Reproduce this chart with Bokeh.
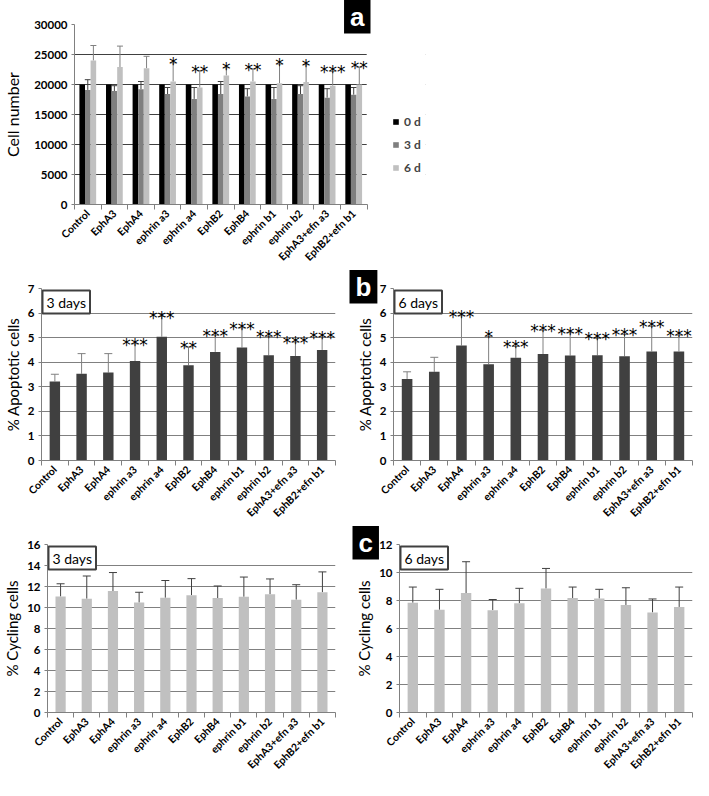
import numpy as np
from bokeh.plotting import figure
from bokeh.models import (Range1d, FixedTicker, SingleIntervalTicker, Whisker, ColumnDataSource,
                          Label, Legend, LegendItem, TeeHead, Title, BoxAnnotation)
from bokeh.layouts import column, row
from bokeh.transform import dodge
from bokeh.core.properties import value
from bokeh.embed import file_html
from bokeh.resources import INLINE

categories = ["Control", "EphA3", "EphA4", "ephrin a3", "ephrin a4", "EphB2", "EphB4",
              "ephrin b1", "ephrin b2", "EphA3+efn a3", "EphB2+efn b1"]

# Panel a: cell number
cells_0d = [20000] * 11
cells_3d = [19100, 18900, 19200, 18400, 17600, 18400, 18000, 17600, 18400, 17800, 18300]
cells_3d_sd = [1700, 900, 1300, 1100, 1900, 2100, 1300, 1900, 1400, 1500, 1200]
cells_6d = [24000, 22900, 22700, 20500, 19500, 21500, 20500, 20200, 20400, 19800, 20000]
cells_6d_sd = [2500, 3500, 2000, 3100, 2800, 1300, 2100, 3200, 2900, 2400, 2900]
cells_stars = ["", "", "", "*", "**", "*", "**", "*", "*", "***", "**"]

# Panel b: % apoptotic cells
apo_3d = [3.22, 3.53, 3.58, 4.05, 5.04, 3.88, 4.42, 4.60, 4.28, 4.25, 4.50]
apo_3d_sd = [0.29, 0.82, 0.77, 0.70, 0.82, 0.74, 0.68, 0.80, 0.77, 0.57, 0.52]
apo_3d_stars = ["", "", "", "***", "***", "**", "***", "***", "***", "***", "***"]
apo_6d = [3.32, 3.61, 4.68, 3.92, 4.18, 4.33, 4.27, 4.28, 4.24, 4.44, 4.44]
apo_6d_sd = [0.29, 0.59, 1.21, 1.13, 0.46, 0.97, 0.93, 0.69, 0.89, 1.02, 0.66]
apo_6d_stars = ["", "", "***", "*", "***", "***", "***", "***", "***", "***", "***"]

# Panel c: % cycling cells
cyc_3d = [11.05, 10.84, 11.57, 10.47, 10.93, 11.17, 10.90, 11.02, 11.26, 10.75, 11.45]
cyc_3d_sd = [1.21, 2.16, 1.76, 0.98, 1.64, 1.58, 1.15, 1.88, 1.46, 1.42, 1.94]
cyc_6d = [7.84, 7.34, 8.53, 7.31, 7.80, 8.85, 8.18, 8.14, 7.68, 7.15, 7.54]
cyc_6d_sd = [1.12, 1.46, 2.24, 0.76, 1.07, 1.44, 0.78, 0.66, 1.23, 0.96, 1.42]

LABEL_FONT = "Lato"
STAR_FONT = "DejaVu Sans"
AXIS_H = 66
N = len(categories)


def base_fig(width, height, left, right, top, ymax, yint, ylabel, grid_color,
             title_size, title_standoff, x_end=N - 0.5):
    p = figure(width=width, height=height,
               min_border_left=left, min_border_right=right,
               min_border_top=top, min_border_bottom=AXIS_H,
               x_range=Range1d(-0.5, x_end), y_range=Range1d(0, ymax),
               output_backend="svg", toolbar_location=None, tools="")
    p.outline_line_color = None
    p.xgrid.grid_line_color = None
    p.ygrid.grid_line_color = grid_color
    p.ygrid.grid_line_width = 1
    p.ygrid.ticker = SingleIntervalTicker(interval=yint)

    xa = p.xaxis[0]
    xa.ticker = FixedTicker(ticks=list(range(N)),
                            minor_ticks=[i - 0.5 for i in range(N + 1)])
    xa.bounds = (-0.5, N - 0.5)
    xa.major_label_overrides = {i: c for i, c in enumerate(categories)}
    xa.major_tick_out = 0
    xa.major_tick_in = 0
    xa.minor_tick_out = 5
    xa.minor_tick_in = 0
    xa.minor_tick_line_color = "#808080"
    xa.axis_line_color = "#808080"
    xa.major_label_orientation = np.pi / 4
    xa.major_label_standoff = 2
    xa.major_label_text_font = LABEL_FONT
    xa.major_label_text_font_style = "bold"
    xa.major_label_text_font_size = "10.5px"
    xa.major_label_text_color = "#000000"

    ya = p.yaxis[0]
    ya.ticker = SingleIntervalTicker(interval=yint)
    ya.minor_tick_line_color = None
    ya.major_tick_out = 3
    ya.major_tick_in = 0
    ya.major_tick_line_color = "#808080"
    ya.axis_line_color = "#808080"
    ya.major_label_standoff = 3
    ya.major_label_text_font = LABEL_FONT
    ya.major_label_text_font_style = "bold"
    ya.major_label_text_font_size = "11.5px"
    ya.major_label_text_color = "#000000"
    ya.axis_label = ylabel
    ya.axis_label_text_font = LABEL_FONT
    ya.axis_label_text_font_style = "normal"
    ya.axis_label_text_font_size = title_size
    ya.axis_label_standoff = title_standoff
    ya.axis_label_text_color = "#000000"
    return p


def letter_box(p, letter, align, offset, standoff):
    p.add_layout(Title(text=letter, align=align, offset=offset, standoff=standoff,
                       vertical_align="bottom",
                       text_color="white", text_font="Liberation Sans", text_font_style="bold",
                       text_font_size="26px", background_fill_color="black",
                       padding=(6, 2)), "above")


def day_box(p, txt, frame_h):
    p.add_layout(Label(x=1, y=frame_h - 2, x_units="screen", y_units="screen", text=txt,
                       text_color="black", text_font=LABEL_FONT, text_font_size="14px",
                       background_fill_color="white", border_line_color="#404040",
                       border_line_width=2, anchor="top_left", padding=(4, 3)))


def single_panel(vals, sds, stars, width, height, left, right, top, ymax, yint, ylabel,
                 bar_color, err_color, day_txt):
    idx = list(range(N))
    src = ColumnDataSource(dict(
        x=idx, v=vals, up=[a + b for a, b in zip(vals, sds)],
        stars=list(stars) if stars else [""] * N))
    p = base_fig(width, height, left, right, top, ymax, yint, ylabel, "#808080",
                 "15px", 3)
    p.vbar(x="x", top="v", width=0.39, source=src, fill_color=bar_color, line_color=None)
    p.add_layout(Whisker(source=src, base="x", upper="up", lower="v", line_color=err_color,
                         line_width=1, upper_head=TeeHead(size=8, line_color=err_color),
                         lower_head=None))
    p.text(x="x", y="up", text="stars", source=src, text_align="center",
           text_baseline="alphabetic", text_font=value(STAR_FONT), text_font_size="17px",
           y_offset=1, text_color="#000000")
    day_box(p, day_txt, height - top - AXIS_H)
    return p


# ---- Panel a ----
A_LEFT, A_PLOT_W, A_EXTRA, A_TOP, A_H = 65, 300, 60, 24, 270
a_x_end = -0.5 + N * (A_PLOT_W + A_EXTRA) / A_PLOT_W
pa = base_fig(693, A_H, A_LEFT, 693 - A_LEFT - A_PLOT_W - A_EXTRA, A_TOP, 30000, 5000,
              "Cell number", "#404040", "16px", 9, x_end=a_x_end)
# keep the legend area free of grid lines
pa.add_layout(BoxAnnotation(left=N - 0.5, right=a_x_end + 1, top=40000, bottom=-1000,
                            fill_color="white", fill_alpha=1.0,
                            line_color="white", line_width=2, level="underlay"))
idx = list(range(N))
src_a = ColumnDataSource(dict(
    x=idx, d0=cells_0d, d3=cells_3d, d6=cells_6d,
    up3=[a + b for a, b in zip(cells_3d, cells_3d_sd)],
    up6=[a + b for a, b in zip(cells_6d, cells_6d_sd)],
    stars=list(cells_stars)))
bw = 0.21
r0 = pa.vbar(x=dodge("x", -bw, range=pa.x_range), top="d0", width=bw, source=src_a,
             fill_color="#000000", line_color=None)
r3 = pa.vbar(x=dodge("x", 0, range=pa.x_range), top="d3", width=bw, source=src_a,
             fill_color="#7f7f7f", line_color=None)
r6 = pa.vbar(x=dodge("x", bw, range=pa.x_range), top="d6", width=bw, source=src_a,
             fill_color="#c0c0c0", line_color=None)
pa.add_layout(Whisker(source=src_a, base=dodge("x", 0, range=pa.x_range), upper="up3",
                      lower="d3", line_color="#404040",
                      upper_head=TeeHead(size=6, line_color="#404040"), lower_head=None))
pa.add_layout(Whisker(source=src_a, base=dodge("x", bw, range=pa.x_range), upper="up6",
                      lower="d6", line_color="#808080",
                      upper_head=TeeHead(size=6, line_color="#808080"), lower_head=None))
pa.text(x=dodge("x", bw, range=pa.x_range), y="up6", text="stars", source=src_a,
        text_align="center", text_baseline="alphabetic", text_font=value(STAR_FONT),
        text_font_size="17px", y_offset=1, text_color="#000000")
legend = Legend(items=[LegendItem(label="0 d", renderers=[r0]),
                       LegendItem(label="3 d", renderers=[r3]),
                       LegendItem(label="6 d", renderers=[r6])],
                location=(A_PLOT_W + 18, 29), glyph_width=7, glyph_height=7,
                label_height=12, spacing=8, label_standoff=5, padding=0, margin=0,
                border_line_color=None, background_fill_alpha=0,
                label_text_font=LABEL_FONT, label_text_font_style="bold",
                label_text_font_size="12px")
pa.add_layout(legend)
letter_box(pa, "a", "right", A_EXTRA - 5, -18)

# ---- Panel b ----
pb1 = single_panel(apo_3d, apo_3d_sd, apo_3d_stars, 342, 256, 36, 7, 18, 7, 1,
                   "% Apoptotic cells", "#404040", "#808080", "3 days")
pb2 = single_panel(apo_6d, apo_6d_sd, apo_6d_stars, 351, 256, 51, 1, 18, 7, 1,
                   "% Apoptotic cells", "#404040", "#808080", "6 days")
letter_box(pb2, "b", "left", -44, -30)

# ---- Panel c ----
pc1 = single_panel(cyc_3d, cyc_3d_sd, None, 342, 252, 42, 7, 18, 16, 2,
                   "% Cycling cells", "#c0c0c0", "#404040", "3 days")
pc2 = single_panel(cyc_6d, cyc_6d_sd, None, 351, 252, 57, 1, 18, 12, 2,
                   "% Cycling cells", "#c0c0c0", "#404040", "6 days")
letter_box(pc2, "c", "left", -47, -30)

layout = column(pa, row(pb1, pb2), row(pc1, pc2))
open("out.html", "w").write(file_html(layout, INLINE))
